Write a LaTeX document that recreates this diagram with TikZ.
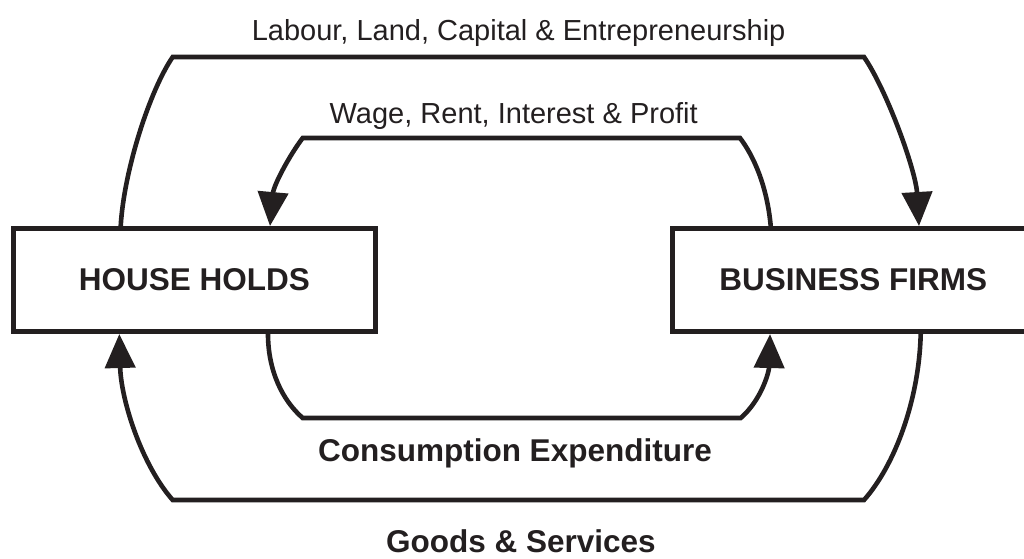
\documentclass[tikz,border=0pt]{standalone}
\usepackage{fontspec}
\setmainfont{Liberation Sans}
\usetikzlibrary{arrows.meta}
\definecolor{ink}{RGB}{35,31,32}
\begin{document}
\begin{tikzpicture}[x=1pt,y=-1pt,
  agent/.style={draw=ink, line width=5pt, minimum width=362pt, minimum height=103pt,
    inner sep=0pt, text=ink, font=\bfseries\fontsize{31.5}{36}\selectfont},
  flow/.style={draw=ink, line width=4.6pt, -{Triangle[length=34pt,width=30pt]}},
  flowlabel/.style={anchor=base, inner sep=0pt, text=ink, font=\fontsize{29}{34}\selectfont},
  flowlabelbold/.style={anchor=base, inner sep=0pt, text=ink, font=\bfseries\fontsize{31.5}{36}\selectfont},
]
\useasboundingbox (0,0) rectangle (1024,558);
\clip (0,0) rectangle (1024,558);

% the two sectors
\node[agent] (hh) at (194.5,280) {HOUSE HOLDS};
\node[agent] (fb) at (853.2,280) {BUSINESS FIRMS};

% labels of the flows
\node[flowlabel] (factors) at (518.6,40) {Labour, Land, Capital \& Entrepreneurship};
\node[flowlabel] (incomes) at (513.7,123) {Wage, Rent, Interest \& Profit};
\node[flowlabelbold] (spending) at (514.9,461) {Consumption Expenditure};
\node[flowlabelbold] (goods) at (520.9,552.5) {Goods \& Services};

% factors of production: households -> firms
\draw[flow] ([xshift=-73.8pt]hh.north) .. controls (124,170) and (150,90) .. (172.7,57)
  -- (864,57) .. controls (886.7,90) and (915.7,170) .. ([xshift=65.8pt]fb.north);

% factor incomes: firms -> households
\draw[flow] ([xshift=-82.5pt]fb.north) .. controls (767,185) and (753,155) .. (740,138)
  -- (302.7,138) .. controls (289.7,155) and (273.7,185) .. ([xshift=75.5pt]hh.north);

% consumption expenditure: households -> firms
\draw[flow] ([xshift=73.5pt]hh.south) .. controls (268,370) and (282,400) .. (302.7,418)
  -- (740.7,418) .. controls (761.4,400) and (769,372) .. ([xshift=-83.2pt]fb.south);

% goods and services: firms -> households
\draw[flow] ([xshift=67.5pt]fb.south) .. controls (919,400) and (895,465) .. (864,500)
  -- (172.7,500) .. controls (141.7,465) and (121,400) .. ([xshift=-75.2pt]hh.south);
\end{tikzpicture}
\end{document}
